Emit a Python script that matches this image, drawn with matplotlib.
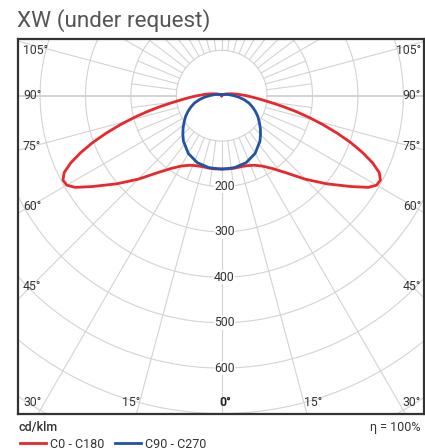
import numpy as np
import matplotlib.pyplot as plt

plt.rcParams['font.family'] = ['Roboto', 'DejaVu Sans']

# luminous intensity, cd/klm, gamma measured from nadir
gamma_c0 = [0, 5, 10, 15, 20, 25, 30, 35, 40, 45, 50, 55, 58, 60, 62, 64, 66, 68,
            70, 72, 74, 76, 78, 80, 82, 84, 86, 88, 90, 95, 100, 110, 120, 135, 150, 180]
c0_c180 = [161, 162, 162, 162, 164, 169, 179, 196, 222, 260, 302, 349, 381, 394, 396, 386,
           364, 335, 303, 268, 233, 199, 167, 137, 111, 91, 76, 64, 54, 36, 24, 12, 6, 3, 1, 0]

gamma_c90 = [0, 10, 20, 30, 40, 45, 50, 55, 60, 65, 70, 75, 80, 85, 90, 100, 110, 120, 140, 160, 180]
c90_c270 = [162, 161, 157, 147, 131, 121, 111, 101, 92, 82, 72, 62, 50, 38, 27, 15, 8, 5, 3, 2, 2]

ring_values = [100, 200, 300, 400, 500, 600, 700, 800]
ring_labels = [200, 300, 400, 500, 600]
side_labels = [105, 90, 75, 60, 45]
bottom_labels = [30, 15]

PX = 0.454  # pixels per cd/klm
x0, y0 = 221.7, 95.7  # centre in pixels
L, R, T, B = 17.5, 423.5, 39.3, 414.0

fig = plt.figure(figsize=(4.25, 4.48), dpi=100)
W, H = 425, 448
ax = fig.add_axes([L / W, 1 - B / H, (R - L) / W, (B - T) / H])
xmin, xmax = (L - x0) / PX, (R - x0) / PX
ymin, ymax = (y0 - B) / PX, (y0 - T) / PX
ax.set_xlim(xmin, xmax)
ax.set_ylim(ymin, ymax)
ax.set_xticks([])
ax.set_yticks([])
for s in ax.spines.values():
    s.set_linewidth(1.6)
    s.set_color('#333333')

grid = '#d3d3d3'
t = np.linspace(0, 2 * np.pi, 400)
for r in ring_values:
    ax.plot(r * np.cos(t), r * np.sin(t), color=grid, lw=0.8, zorder=1)

for a in np.arange(0, 360, 7.5):
    rad = np.radians(a)
    dx, dy = np.sin(rad), -np.cos(rad)
    if a % 15 == 0:
        lw = 1.4 if a in (90, 270) else 0.8
        ax.plot([100 * dx, 1000 * dx], [100 * dy, 1000 * dy], color=grid, lw=lw, zorder=1)
    else:
        ax.plot([100 * dx, 200 * dx], [100 * dy, 200 * dy], color=grid, lw=0.8, zorder=1)


def curve(g, v):
    g = np.radians(np.array(g, dtype=float))
    v = np.array(v, dtype=float)
    xs = np.concatenate([-(v * np.sin(g))[::-1], v * np.sin(g)])
    ys = np.concatenate([-(v * np.cos(g))[::-1], -v * np.cos(g)])
    return xs, ys


xr, yr = curve(gamma_c0, c0_c180)
ax.plot(xr, yr, color='#e8282c', lw=2.0, zorder=3, solid_joinstyle='round')
xb, yb = curve(gamma_c90, c90_c270)
ax.plot(xb, yb, color='#2152a3', lw=2.0, zorder=4, solid_joinstyle='round')

# ring labels along the nadir axis
for r in ring_labels:
    ax.text(6, -r, str(r), ha='center', va='center', fontsize=8.8, color='#333333',
            zorder=5, bbox=dict(facecolor='white', edgecolor='none', pad=0.3, alpha=0.9))

# angle labels on the spokes, next to the frame
fs = 8.8
lab_c = '#333333'
for a in side_labels:
    rad = np.radians(a)
    xc = -xmin - 13 / PX
    y = -xc * np.cos(rad) / np.sin(rad)
    y = min(y, ymax - 25)
    ax.text(xmin + 5.5 / PX, y, f'{a}°', ha='left', va='center', fontsize=fs, color=lab_c, zorder=5)
    ax.text(xmax - 2.5 / PX, y, f'{a}°', ha='right', va='center', fontsize=fs, color=lab_c, zorder=5)

yb_ = ymin + 11 / PX
for a in bottom_labels:
    x = -ymin * np.tan(np.radians(a))
    ax.text(-x + 4 / PX, yb_, f'{a}°', ha='right', va='center', fontsize=fs, color=lab_c, zorder=5)
    ax.text(x - 3 / PX, yb_, f'{a}°', ha='left', va='center', fontsize=fs, color=lab_c, zorder=5)
ax.text(7, yb_, '0°', ha='center', va='center', fontsize=fs, color='#222222',
        fontweight='bold', zorder=5)

fig.text(17 / W, 1 - 26.7 / H, 'XW (under request)', fontsize=16.2, color='#555555',
         ha='left', va='baseline')
fig.text(18.5 / W, 1 - 430.5 / H, 'cd/klm', fontsize=9, color='#333333',
         fontweight='medium', ha='left', va='baseline')
fig.text(421 / W, 1 - 430.5 / H, 'η = 100%', fontsize=9, color='#333333',
         ha='right', va='baseline')

# legend
fig.add_artist(plt.Line2D([20 / W, 45.7 / W], [1 - 443.3 / H] * 2, color='#e8282c', lw=2.0))
fig.text(49.7 / W, 1 - 448.0 / H, 'C0 - C180', fontsize=9, color='#333333', ha='left', va='baseline')
fig.add_artist(plt.Line2D([115 / W, 141 / W], [1 - 443.3 / H] * 2, color='#2152a3', lw=2.0))
fig.text(144.7 / W, 1 - 448.0 / H, 'C90 - C270', fontsize=9, color='#333333', ha='left', va='baseline')

fig.savefig('out.png', dpi=100)
